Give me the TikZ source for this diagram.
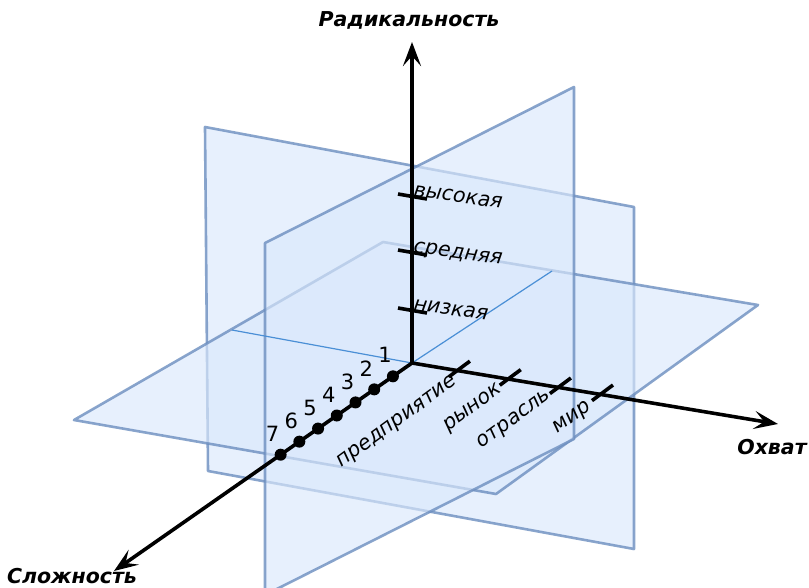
\documentclass[tikz,border=0pt]{standalone}
\usepackage{fontspec}
\setmainfont{DejaVu Sans}
\usetikzlibrary{arrows.meta,calc}
\definecolor{planefill}{HTML}{DAE8FC}
\definecolor{planeedge}{HTML}{6C8EBF}
\definecolor{isect}{HTML}{4A8FD6}
\begin{document}
\begin{tikzpicture}[x=1pt,y=-1pt,
  plane/.style={fill=planefill, fill opacity=0.65, draw=planeedge, draw opacity=0.8, line width=2.6pt, line join=round},
  isectline/.style={draw=isect, line width=1.2pt},
  axisline/.style={line width=3.6pt, -{Stealth[length=24pt,width=18pt,inset=10pt]}},
  tickline/.style={line width=3.6pt},
  axtitle/.style={font=\fontsize{20.5}{23}\selectfont\bfseries\itshape, inner sep=0pt},
  lvl/.style={font=\fontsize{20.5}{23}\selectfont\itshape, inner sep=0pt},
  num/.style={font=\fontsize{21}{24}\selectfont, inner sep=0pt},
  dotnode/.style={circle, fill=black, inner sep=0pt, minimum size=12pt}
]
\useasboundingbox (0,0) rectangle (809,587);
\begin{scope}
  \clip (0,0) rectangle (809,587);
  \draw[plane] (205,127) -- (634,207) -- (634,549) -- (208,471) -- cycle;
  \draw[plane] (74,420) -- (383,242) -- (758,305) -- (496,494) -- cycle;
  \draw[plane] (265,243) -- (574,87) -- (574,439) -- (265,595) -- cycle;
\end{scope}

\coordinate (O) at (412,363);
\coordinate (L1) at (232,330);
\coordinate (R1) at (552,271);
\draw[isectline] (L1) -- (O) -- (R1);

% axes
\coordinate (tipR) at (412,42);
\coordinate (tipX) at (778,424);
\coordinate (tipS) at (114,571);
\draw[axisline] (O) -- (tipR);
\draw[axisline] (O) -- (tipX);
\draw[axisline] (O) -- (tipS);

\node[axtitle] (tR) at (409,20) {Радикальность};
\node[axtitle] (tX) at (772,447) {Охват};
\node[axtitle] (tS) at (72,576) {Сложность};

% vertical ticks
\draw[tickline] (398,194) -- (427,199);
\draw[tickline] (398,250) -- (427,255);
\draw[tickline] (398,308) -- (427,313);
\node[lvl, rotate=-8, anchor=base west] (v1) at (413,196) {высокая};
\node[lvl, rotate=-8, anchor=base west] (v2) at (413,252) {средняя};
\node[lvl, rotate=-8, anchor=base west] (v3) at (413,310) {низкая};

% horizontal ticks
\foreach \t [count=\i] in {0.124,0.263,0.400,0.515} {
  \coordinate (h\i) at ($(O)!\t!(tipX)$);
  \draw[tickline] ($(h\i)+(-8.5,6.2)$) -- ($(h\i)+(12.5,-9.4)$);
}
\node[lvl, rotate=36, anchor=north east] (x1) at (451,374) {предприятие};
\node[lvl, rotate=36, anchor=north east] (x2) at (496,382) {рынок};
\node[lvl, rotate=36, anchor=north east] (x3) at (545,388) {отрасль};
\node[lvl, rotate=36, anchor=north east] (x4) at (585,399) {мир};

% complexity dots
\foreach \i in {1,...,7} {
  \coordinate (d\i) at ($(O)!{0.064+0.0628*(\i-1)}!(tipS)$);
  \node[dotnode] (dn\i) at (d\i) {};
  \node[num] (n\i) at ($(d\i)+(-8,-21)$) {\i};
}
\end{tikzpicture}
\end{document}
